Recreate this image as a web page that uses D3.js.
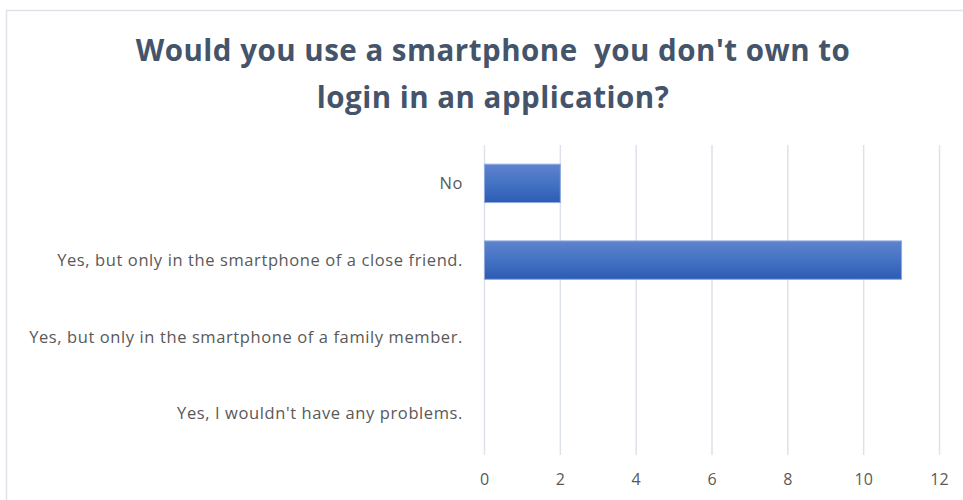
<!DOCTYPE html>
<html>
<head>
<meta charset="utf-8">
<script src="https://cdn.jsdelivr.net/npm/d3@7"></script>
<style>
  html, body { margin: 0; padding: 0; background: #fff; }
  svg { display: block; }
</style>
</head>
<body>
<svg id="chart" width="963" height="500"></svg>
<script>
// Survey answers, top to bottom
const categories = [
  "No",
  "Yes, but only in the smartphone of a close friend.",
  "Yes, but only in the smartphone of a family member.",
  "Yes, I wouldn't have any problems."
];
const counts = [2, 11, 0, 0];
const xTicks = [0, 2, 4, 6, 8, 10, 12];
const titleLines = [
  "Would you use a smartphone  you don't own to",
  "login in an application?"
];

const svg = d3.select("#chart");
const margin = { left: 484, right: 24, top: 145, bottom: 48 };
const W = 963, H = 500;

// Chart frame
svg.append("path")
  .attr("d", `M6.5,${H} V10.5 H${W}`)
  .attr("fill", "none")
  .attr("stroke", "#dfe3ea")
  .attr("stroke-width", 1.5);

// Title
const title = svg.append("text")
  .attr("text-anchor", "middle")
  .attr("font-family", "'Open Sans', sans-serif")
  .attr("font-weight", "bold")
  .attr("font-size", 29.5)
  .attr("letter-spacing", 0.5)
  .attr("xml:space", "preserve")
  .attr("fill", "#44546a");
titleLines.forEach((t, i) => {
  title.append("tspan")
    .attr("x", 493)
    .attr("y", 61 + i * 47)
    .text(t);
});

const x = d3.scaleLinear().domain([0, 12]).range([margin.left, 939]);
const y = d3.scaleBand().domain(categories)
  .range([margin.top, 452]).paddingInner(0.5).paddingOuter(0.25);

// Gridlines
svg.append("g")
  .selectAll("line")
  .data(xTicks)
  .join("line")
  .attr("x1", d => x(d) + 0.5).attr("x2", d => x(d) + 0.5)
  .attr("y1", margin.top).attr("y2", 455)
  .attr("stroke", "#dde2ea")
  .attr("stroke-width", 1.5);

// Bar gradient
const defs = svg.append("defs");
const grad = defs.append("linearGradient")
  .attr("id", "barFill").attr("x1", 0).attr("y1", 0).attr("x2", 0).attr("y2", 1);
grad.append("stop").attr("offset", "0%").attr("stop-color", "#5f83cf");
grad.append("stop").attr("offset", "50%").attr("stop-color", "#4472c4");
grad.append("stop").attr("offset", "100%").attr("stop-color", "#2c5cb4");

// Bars
svg.append("g")
  .selectAll("rect")
  .data(categories.map((c, i) => ({ c, v: counts[i] })).filter(d => d.v > 0))
  .join("rect")
  .attr("x", x(0) + 0.5)
  .attr("y", d => y(d.c))
  .attr("width", d => x(d.v) - x(0))
  .attr("height", y.bandwidth())
  .attr("fill", "url(#barFill)")
  .attr("stroke", "#8eaadb")
  .attr("stroke-width", 1);

// Category labels
svg.append("g")
  .selectAll("text")
  .data(categories)
  .join("text")
  .attr("x", 463)
  .attr("y", d => y(d) + y.bandwidth() / 2)
  .attr("dy", "0.35em")
  .attr("text-anchor", "end")
  .attr("font-family", "'Open Sans', sans-serif")
  .attr("font-size", 16.5)
  .attr("letter-spacing", 0.6)
  .attr("fill", "#595959")
  .text(d => d);

// X axis tick labels
const xAxis = d3.axisBottom(x).tickValues(xTicks).tickSize(0).tickPadding(0);
const gx = svg.append("g")
  .attr("transform", "translate(0,481)")
  .call(xAxis);
gx.select(".domain").remove();
gx.selectAll("text")
  .attr("font-family", "'Open Sans', sans-serif")
  .attr("font-size", 16)
  .attr("fill", "#595959")
  .attr("dy", "0")
  .attr("dominant-baseline", "middle");
</script>
</body>
</html>
